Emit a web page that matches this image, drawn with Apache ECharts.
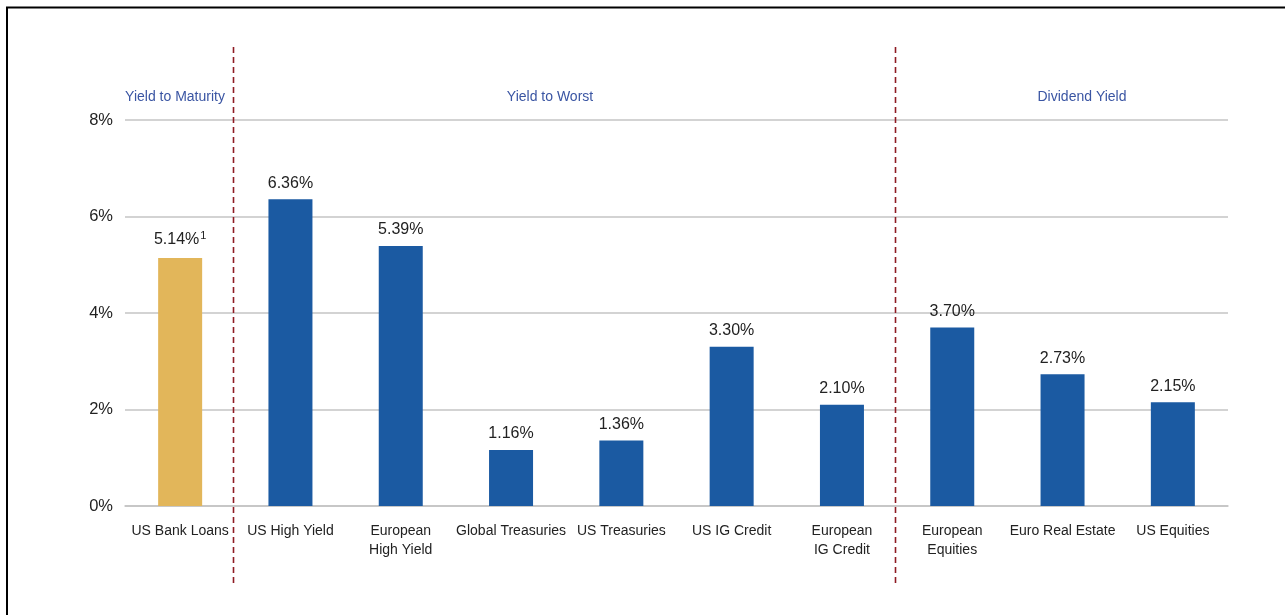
<!DOCTYPE html>
<html><head><meta charset="utf-8">
<script src="https://cdn.jsdelivr.net/npm/echarts@6/dist/echarts.min.js"></script>
<style>html,body{margin:0;padding:0;background:#fff;}#c{width:1285px;height:615px;}</style>
</head><body><div id="c"></div>
<script>
const categories = ['US Bank Loans','US High Yield','European\nHigh Yield','Global Treasuries','US Treasuries','US IG Credit','European\nIG Credit','European\nEquities','Euro Real Estate','US Equities'];
const values = [5.14, 6.36, 5.39, 1.16, 1.36, 3.30, 2.10, 3.70, 2.73, 2.15];
const sections = [
  {name:'Yield to Maturity', from:0, to:0},
  {name:'Yield to Worst', from:1, to:6},
  {name:'Dividend Yield', from:7, to:9}
];
const yTicks = [0, 2, 4, 6, 8];

const chart = echarts.init(document.getElementById('c'));
const font = 'Helvetica, "Liberation Sans", Arial, sans-serif';
chart.setOption({
  animation:false,
  grid:{left:125,right:57,top:120,bottom:109},
  xAxis:{type:'category',data:categories,
    axisLine:{show:true,lineStyle:{color:'#c4c4c4',width:1.5}},
    axisTick:{show:false},
    axisLabel:{interval:0,color:'#222',fontSize:14,fontFamily:font,margin:16,lineHeight:19}},
  yAxis:{type:'value',min:yTicks[0],max:yTicks[yTicks.length-1],interval:2,
    axisLine:{show:false},axisTick:{show:false},
    axisLabel:{formatter:'{value}%',color:'#222',fontSize:16.5,fontFamily:font,margin:12,padding:[4,0,0,0]},
    splitLine:{lineStyle:{color:'#c4c4c4',width:1.5}}},
  series:[{type:'bar',barWidth:44,
    data:values.map((v,i)=>({value:v,itemStyle:{color:i===0?'#E2B65A':'#1B5AA2'}})),
    label:{show:true,position:'top',distance:8,color:'#222',fontSize:16,fontFamily:font,
      formatter:p=>p.dataIndex===0?('{a|'+p.value.toFixed(2)+'%}{s|1}'):(p.value.toFixed(2)+'%'),
      rich:{a:{color:'#222',fontSize:16,fontFamily:font},s:{color:'#222',fontSize:11,fontFamily:font,verticalAlign:'top',padding:[0,0,9,1]}}}
  }]
});

function draw(){
  const xs = categories.map((c,i)=>chart.convertToPixel({xAxisIndex:0},i));
  const g = [];
  // frame
  g.push({type:'line',shape:{x1:6,y1:7.5,x2:1285,y2:7.5},style:{stroke:'#000',lineWidth:2}});
  g.push({type:'line',shape:{x1:7,y1:7,x2:7,y2:615},style:{stroke:'#000',lineWidth:2}});
  // dividers
  [1,7].forEach(i=>{
    const x = Math.round((xs[i-1]+xs[i])/2)-1.5;
    g.push({type:'line',shape:{x1:x,y1:47,x2:x,y2:587},style:{stroke:'#8E1B24',lineWidth:1.6,lineDash:[6,4]}});
  });
  // section labels
  const centers = [175, 550, 1082];
  sections.forEach((s,k)=>{
    g.push({type:'text',x:centers[k],y:97,style:{text:s.name,fill:'#3A55A3',fontSize:14,fontFamily:font,align:'center',verticalAlign:'middle'}});
  });
  chart.setOption({graphic:g});
}
draw();
</script></body></html>
